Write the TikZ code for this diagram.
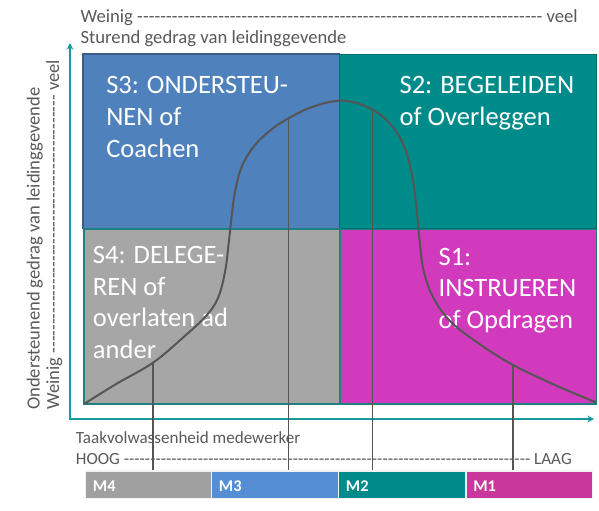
\documentclass[tikz,border=0pt]{standalone}
\usepackage{fontspec}
\setmainfont{Carlito}
\usetikzlibrary{arrows.meta}
\definecolor{txtgray}{HTML}{595959}
\definecolor{bluebox}{HTML}{4F81BD}
\definecolor{blueedge}{HTML}{385D8A}
\definecolor{tealbox}{HTML}{008B8B}
\definecolor{tealedge}{HTML}{006E6E}
\definecolor{graybox}{HTML}{A6A6A6}
\definecolor{grayedge}{HTML}{1E8080}
\definecolor{magbox}{HTML}{D23ABD}
\definecolor{magedge}{HTML}{1F7F7F}
\definecolor{axisteal}{HTML}{139A9A}
\definecolor{mfour}{HTML}{A0A0A0}
\definecolor{mthree}{HTML}{558ED5}
\definecolor{mtwo}{HTML}{008B8B}
\definecolor{mone}{HTML}{C8379B}
\definecolor{curvegray}{HTML}{555555}
\tikzset{
  quad/.style={line width=1.1pt},
  boxtext/.style={anchor=base west, inner sep=0pt, text=white, font=\fontsize{19.9}{24.2}\selectfont},
  gtext/.style={anchor=base west, inner sep=0pt, text=txtgray},
  mseg/.style={draw=white!90!gray, line width=0.8pt},
  mlabel/.style={anchor=base west, inner sep=0pt, text=white, font=\fontsize{12.3}{14}\selectfont\bfseries},
  axisline/.style={draw=axisteal, line width=1.3pt, {Stealth[length=5pt,width=5pt]}-{Stealth[length=5pt,width=5pt]}},
  curveline/.style={draw=curvegray, line width=1.5pt},
  dropline/.style={draw=curvegray, line width=0.9pt}
}
\newcommand{\boxlines}[2]{\vtop{\baselineskip=#1\relax #2}}
\begin{document}
\begin{tikzpicture}[x=0.75pt,y=-0.75pt]
\useasboundingbox[fill=white] (0,0) rectangle (599,510);

% quadrants
\path[quad, fill=bluebox, draw=blueedge] (83,54) rectangle (339.5,228.5);
\path[quad, fill=tealbox, draw=tealedge] (339.5,54.5) rectangle (596.5,229);
\path[quad, fill=graybox, draw=grayedge] (84,229) rectangle (340,404);
\path[quad, fill=magbox, draw=magedge] (340.5,229.5) rectangle (596.5,404);

% quadrant texts
\node[boxtext] (s3) at (106,93.3) {\boxlines{24.2pt}{\hbox{S3: ONDERSTEU-}\hbox{NEN of}\hbox{Coachen}}};
\node[boxtext] (s2) at (399.3,93.3) {\boxlines{24.2pt}{\hbox{S2: BEGELEIDEN}\hbox{of Overleggen}}};
\node[boxtext] (s4) at (92.7,263.3) {\boxlines{23.8pt}{\hbox{S4: DELEGE-}\hbox{REN of}\hbox{overlaten ad}\hbox{ander}}};
\node[boxtext] (s1) at (438.3,265) {\boxlines{23.8pt}{\hbox{S1:}\hbox{INSTRUEREN}\hbox{of Opdragen}}};

% axes
\coordinate (ytop) at (70,43);
\coordinate (origin) at (70,419);
\coordinate (xend) at (594,419);
\draw[axisline] (ytop) -- (origin) -- (xend);

% curve
\coordinate (c4) at (153,362.7);
\coordinate (c3) at (288.5,118.3);
\coordinate (c2) at (372.5,110);
\coordinate (c1) at (513,365);
\draw[curveline] plot[smooth, tension=0.6] coordinates {
 (84,404) (117,383.5) (153,362.7) (184,336.7) (206,316) (218,298)
 (225,272) (228.5,245) (231.5,218) (235,192) (242,166) (255,145)
 (272,129) (288.5,118.3) (312,107) (340,100.7) (365,106) (388,121.5)
 (404,146) (412.5,178) (416.7,210) (419.5,240) (423.5,270) (433,297)
 (450,321) (478,343) (513,365) (555,385) (596.7,402.7)};

% drop lines
\coordinate (b4) at (153,470);
\coordinate (b3) at (288.5,470);
\coordinate (b2) at (372.5,470);
\coordinate (b1) at (513,470);
\draw[dropline] (c4) -- (b4);
\draw[dropline] (c3) -- (b3);
\draw[dropline] (c2) -- (b2);
\draw[dropline] (c1) -- (b1);

% top texts
\node[gtext, font=\fontsize{14}{16}\selectfont] (topscale) at (80.3,22.7)
  {\hbox to 373pt{Weinig\ \xleaders\hbox{-}\hfill\ veel}};
\node[gtext, font=\fontsize{14}{16}\selectfont] (toptitle) at (80.3,44)
  {Sturend gedrag van leidinggevende};

% vertical texts
\node[gtext, rotate=90, font=\fontsize{13.9}{16}\selectfont] (leftscale) at (59,410)
  {\hbox to 262.5pt{Weinig\ \xleaders\hbox{-}\hfill\ veel}};
\node[gtext, rotate=90, font=\fontsize{13.9}{16}\selectfont] (lefttitle) at (39.5,410)
  {Ondersteunend gedrag van leidinggevende};

% bottom texts
\node[gtext, font=\fontsize{12.8}{15}\selectfont] (bottitle) at (75.7,443.3)
  {Taakvolwassenheid medewerker};
\node[gtext, font=\fontsize{12.8}{15}\selectfont] (botscale) at (75.7,464)
  {\hbox to 372pt{HOOG\ \xleaders\hbox{-}\hfill\ LAAG}};

% M bar
\path[mseg, fill=mfour] (85.7,471) rectangle (211.7,498.3);
\path[mseg, fill=mthree] (211.7,471) rectangle (338.7,498.3);
\path[mseg, fill=mtwo] (338.7,471) rectangle (466,498.3);
\path[mseg, fill=mone] (466,471) rectangle (592.7,498.3);
\node[mlabel] (m4) at (92.7,491) {M4};
\node[mlabel] (m3) at (218.7,491) {M3};
\node[mlabel] (m2) at (345.7,491) {M2};
\node[mlabel] (m1) at (473,491) {M1};
\end{tikzpicture}
\end{document}
